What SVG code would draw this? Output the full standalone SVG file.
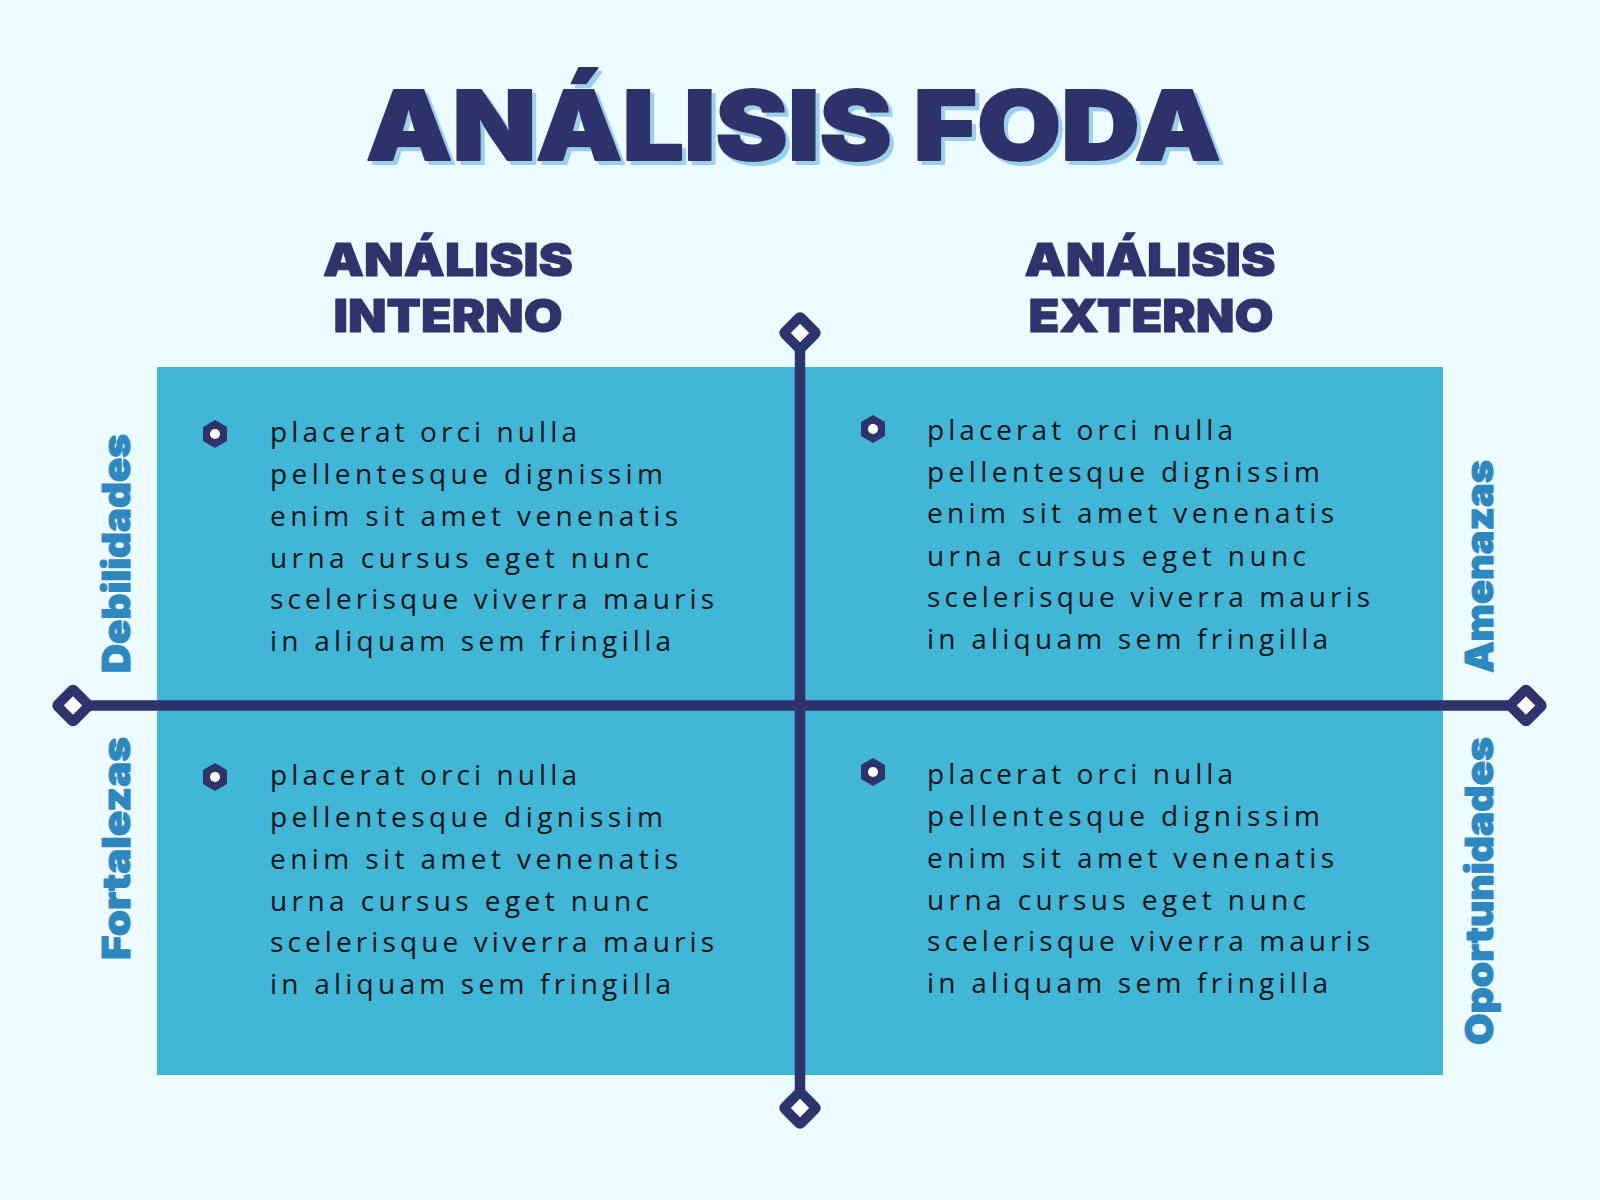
<svg xmlns="http://www.w3.org/2000/svg" width="1600" height="1200" viewBox="0 0 1600 1200">
<defs>
<style>
.title{font-family:Inter,Lato,Roboto,"DejaVu Sans",sans-serif;font-weight:900;font-size:96px;fill:#2F336B;stroke:#2F336B;stroke-width:2;stroke-linejoin:round;}
.sub{font-family:Inter,Lato,Roboto,"DejaVu Sans",sans-serif;font-weight:900;font-size:46px;fill:#2F336B;text-anchor:middle;stroke:#2F336B;stroke-width:1;stroke-linejoin:round;}
.lbl{font-family:Inter,Lato,Roboto,"DejaVu Sans",sans-serif;font-weight:900;font-size:38px;fill:#2E88BF;stroke:#2E88BF;stroke-width:1;stroke-linejoin:round;}
.body{font-family:"Open Sans","Noto Sans","Liberation Sans",sans-serif;font-size:28px;fill:#111418;letter-spacing:2px;}
.line{stroke:#2F336B;stroke-width:10.5;fill:none;}
.dia{fill:#FFFFFF;stroke:#2F336B;stroke-width:10;stroke-linejoin:round;}
.hex{fill:#2F336B;}
.dot{fill:#FFFFFF;}
</style>
<filter id="shadow" x="-5%" y="-20%" width="115%" height="150%">
<feOffset in="SourceAlpha" dx="4" dy="4" result="off"/>
<feFlood flood-color="#9CCFEA"/>
<feComposite in2="off" operator="in" result="sh"/>
<feMerge><feMergeNode in="sh"/><feMergeNode in="SourceGraphic"/></feMerge>
</filter>
<g id="diamond"><rect class="dia" x="-11.5" y="-11.5" width="23" height="23" rx="1.5" transform="rotate(45)"/></g>
<g id="bullet"><polygon class="hex" points="0,-14 12,-7 12,7 0,14 -12,7 -12,-7"/><circle class="dot" r="5"/></g>
</defs>
<rect x="0" y="0" width="1600" height="1200" fill="#EBFBFF"/>

<g id="title">
<text class="title" x="793.5" y="160" text-anchor="middle" textLength="855" lengthAdjust="spacingAndGlyphs" filter="url(#shadow)">ANÁLISIS FODA</text>
</g>

<g id="header-interno">
<text class="sub" x="448" y="276" textLength="250" lengthAdjust="spacingAndGlyphs">ANÁLISIS</text>
<text class="sub" x="448" y="332" textLength="229" lengthAdjust="spacingAndGlyphs">INTERNO</text>
</g>
<g id="header-externo">
<text class="sub" x="1150" y="276" textLength="251" lengthAdjust="spacingAndGlyphs">ANÁLISIS</text>
<text class="sub" x="1151" y="332" textLength="245" lengthAdjust="spacingAndGlyphs">EXTERNO</text>
</g>

<g id="matrix">
<rect x="157" y="367" width="1286" height="708" fill="#42B6D6"/>
</g>

<g id="connectors">
<line class="line" x1="73" y1="705.5" x2="1526" y2="705.5"/>
<line class="line" x1="800" y1="333" x2="800" y2="1108"/>
<use href="#diamond" x="73" y="705.5"/>
<use href="#diamond" x="1526" y="705.5"/>
<use href="#diamond" x="800" y="333"/>
<use href="#diamond" x="800" y="1108"/>
</g>

<g id="debilidades">
<text class="lbl" transform="translate(130,673) rotate(-90)" textLength="239" lengthAdjust="spacingAndGlyphs">Debilidades</text>
<use href="#bullet" x="215" y="434"/>
<text class="body">
<tspan x="270" y="442" textLength="309">placerat orci nulla</tspan>
<tspan x="270" y="484" textLength="395">pellentesque dignissim</tspan>
<tspan x="270" y="526" textLength="410">enim sit amet venenatis</tspan>
<tspan x="270" y="568" textLength="381">urna cursus eget nunc</tspan>
<tspan x="270" y="609" textLength="446">scelerisque viverra mauris</tspan>
<tspan x="270" y="651" textLength="403">in aliquam sem fringilla</tspan>
</text>
</g>

<g id="amenazas">
<text class="lbl" transform="translate(1493,673) rotate(-90)" textLength="213" lengthAdjust="spacingAndGlyphs">Amenazas</text>
<use href="#bullet" x="873" y="429"/>
<text class="body">
<tspan x="927" y="440" textLength="308">placerat orci nulla</tspan>
<tspan x="927" y="482" textLength="395">pellentesque dignissim</tspan>
<tspan x="927" y="523" textLength="409">enim sit amet venenatis</tspan>
<tspan x="927" y="566" textLength="381">urna cursus eget nunc</tspan>
<tspan x="927" y="607" textLength="445">scelerisque viverra mauris</tspan>
<tspan x="927" y="649" textLength="403">in aliquam sem fringilla</tspan>
</text>
</g>

<g id="fortalezas">
<text class="lbl" transform="translate(130,737) rotate(-90)" text-anchor="end" textLength="223" lengthAdjust="spacingAndGlyphs">Fortalezas</text>
<use href="#bullet" x="215" y="777"/>
<text class="body">
<tspan x="270" y="785" textLength="309">placerat orci nulla</tspan>
<tspan x="270" y="827" textLength="395">pellentesque dignissim</tspan>
<tspan x="270" y="869" textLength="410">enim sit amet venenatis</tspan>
<tspan x="270" y="911" textLength="381">urna cursus eget nunc</tspan>
<tspan x="270" y="952" textLength="446">scelerisque viverra mauris</tspan>
<tspan x="270" y="994" textLength="403">in aliquam sem fringilla</tspan>
</text>
</g>

<g id="oportunidades">
<text class="lbl" transform="translate(1493,737) rotate(-90)" text-anchor="end" textLength="308" lengthAdjust="spacingAndGlyphs">Oportunidades</text>
<use href="#bullet" x="873" y="772"/>
<text class="body">
<tspan x="927" y="784" textLength="308">placerat orci nulla</tspan>
<tspan x="927" y="826" textLength="395">pellentesque dignissim</tspan>
<tspan x="927" y="868" textLength="409">enim sit amet venenatis</tspan>
<tspan x="927" y="910" textLength="381">urna cursus eget nunc</tspan>
<tspan x="927" y="951" textLength="445">scelerisque viverra mauris</tspan>
<tspan x="927" y="993" textLength="403">in aliquam sem fringilla</tspan>
</text>
</g>
</svg>
